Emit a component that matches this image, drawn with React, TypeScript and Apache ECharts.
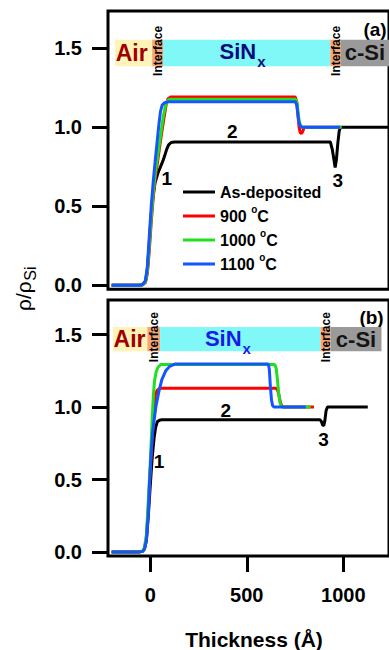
import React, { useEffect, useRef } from 'react';
import * as echarts from 'echarts';

const FONT = "'Liberation Sans', Arial, Helvetica, sans-serif";

// legend / series
const seriesNames = ['As-deposited', '900 °C', '1000 °C', '1100 °C'];
const seriesColors = ['#000000', '#ff0000', '#1ee01e', '#1455ff'];

// axes
const xTicks = [0, 500, 1000];
const yTicks = [0, 0.5, 1.0, 1.5];
const xRange = [-219, 1237];
const yRangeA = [-0.025, 1.734];
const yRangeB = [-0.028, 1.739];

// layer bands (edges in Å) and their kinds
const layerKinds = ['Air', 'Interface', 'SiNx', 'Interface', 'c-Si'];
const layerColors = ['#fff4b8', '#f5a474', '#80f8f8', '#f5a474', '#9a9a9a'];
const bandEdgesA = [-182, 10, 66, 933, 988, 1237];
const bandEdgesB = [-193, -15, 51, 882, 934, 1198];
const bandY = [1.385, 1.553];
const sinxLabelStart = [359, 283]; // panel a, panel b (Å)
const sinxColors = ['#0a0a80', '#1a1ae6'];

// curve labels
const curveLabelTexts = ['1', '2', '3'];
const curveLabelPosA = [[85, 0.675], [425, 0.975], [971, 0.66]];
const curveLabelPosB = [[45, 0.623], [391, 0.975], [898, 0.773]];

// ---- panel (a) curves ----
const asDepA = [[-200, 0], [-60, 0], [-40, 0.004], [-25, 0.025], [-15, 0.1], [-5, 0.27], [5, 0.45], [15, 0.57], [25, 0.65], [40, 0.71], [55, 0.755], [65, 0.785], [75, 0.82], [85, 0.86], [95, 0.888], [108, 0.903], [125, 0.906], [933, 0.906], [943, 0.86], [951, 0.8], [958, 0.745], [964, 0.79], [972, 0.9], [979, 0.975], [986, 1.0], [1237, 1.0]];
const t900A = [[-200, 0], [-60, 0], [-40, 0.003], [-25, 0.018], [-15, 0.075], [-5, 0.22], [5, 0.4], [15, 0.55], [25, 0.67], [40, 0.8], [55, 0.93], [70, 1.05], [82, 1.14], [92, 1.18], [105, 1.19], [752, 1.19], [759, 1.16], [765, 1.08], [771, 1.0], [777, 0.965], [784, 0.96], [791, 0.975], [798, 1.0], [985, 1.0]];
const t1000A = [[-200, 0], [-60, 0], [-40, 0.004], [-25, 0.022], [-15, 0.09], [-5, 0.25], [5, 0.43], [15, 0.58], [25, 0.7], [40, 0.83], [55, 0.96], [68, 1.07], [78, 1.13], [88, 1.165], [100, 1.177], [754, 1.177], [761, 1.15], [767, 1.08], [773, 1.03], [780, 1.008], [790, 1.0], [992, 1.0]];
const t1100A = [[-200, 0], [-60, 0], [-40, 0.005], [-25, 0.03], [-15, 0.12], [-5, 0.31], [5, 0.5], [15, 0.65], [25, 0.78], [35, 0.9], [45, 1.02], [53, 1.1], [62, 1.14], [75, 1.155], [95, 1.16], [752, 1.16], [759, 1.14], [764, 1.09], [769, 1.04], [775, 1.012], [783, 1.0], [983, 1.0]];

// ---- panel (b) curves ----
const asDepB = [[-200, 0], [-60, 0], [-40, 0.004], [-30, 0.02], [-20, 0.08], [-10, 0.25], [0, 0.46], [10, 0.65], [20, 0.79], [28, 0.86], [37, 0.9], [50, 0.91], [62, 0.912], [880, 0.912], [887, 0.9], [893, 0.876], [899, 0.872], [905, 0.91], [911, 0.975], [918, 1.0], [1127, 1.0]];
const t900B = [[-200, 0], [-60, 0], [-40, 0.004], [-30, 0.025], [-20, 0.1], [-10, 0.3], [0, 0.56], [10, 0.8], [18, 0.97], [26, 1.08], [35, 1.115], [48, 1.128], [60, 1.13], [650, 1.13], [659, 1.12], [667, 1.08], [675, 1.03], [682, 1.007], [690, 1.0], [848, 1.0]];
const t1000B = [[-200, 0], [-60, 0], [-40, 0.005], [-30, 0.03], [-20, 0.12], [-10, 0.36], [0, 0.62], [6, 0.8], [11, 0.95], [16, 1.08], [22, 1.18], [30, 1.24], [40, 1.275], [54, 1.293], [645, 1.293], [652, 1.27], [659, 1.19], [666, 1.09], [672, 1.03], [679, 1.005], [688, 1.0], [831, 1.0]];
const t1100B = [[-200, 0], [-60, 0], [-40, 0.004], [-30, 0.02], [-20, 0.08], [-10, 0.27], [-4, 0.47], [4, 0.67], [12, 0.82], [20, 0.91], [30, 1.01], [45, 1.11], [60, 1.19], [80, 1.25], [100, 1.28], [130, 1.298], [612, 1.298], [617, 1.26], [622, 1.15], [628, 1.05], [634, 1.01], [642, 1.0], [806, 1.0]];

const curvesA = [asDepA, t900A, t1000A, t1100A];
const curvesB = [asDepB, t900B, t1000B, t1100B];

let measureCtx: CanvasRenderingContext2D | null = null;
function textWidth(text: string, font: string) {
  if (!measureCtx) measureCtx = document.createElement('canvas').getContext('2d');
  if (!measureCtx) return text.length * 10;
  measureCtx.font = font;
  return measureCtx.measureText(text).width;
}

function makeBandRender(panel: number) {
  return (params: any, api: any) => {
    const i = params.dataIndex;
    const x0 = api.value(0);
    const x1 = api.value(1);
    const pTop = api.coord([x0, bandY[1]]);
    const pBot = api.coord([x1, bandY[0]]);
    const left = pTop[0];
    const right = Math.min(pBot[0], api.getWidth());
    const top = pTop[1];
    const bottom = pBot[1];
    const cy = (top + bottom) / 2;
    const kind = layerKinds[i];
    const children: any[] = [
      { type: 'rect', shape: { x: left, y: top, width: right - left, height: bottom - top }, style: { fill: layerColors[i] } },
    ];
    if (kind === 'Interface') {
      children.push({
        type: 'text', x: (left + right) / 2, y: cy - 2, rotation: Math.PI / 2,
        style: { text: 'Interface', fontSize: 12, fontWeight: 'bold', fontFamily: FONT, fill: '#000', align: 'center', verticalAlign: 'middle' },
      });
    } else if (kind === 'Air') {
      children.push({
        type: 'text', x: left + 0.5, y: cy,
        style: { text: 'Air', fontSize: 23, fontWeight: 'bold', fontFamily: FONT, fill: '#a00000', align: 'left', verticalAlign: 'middle' },
      });
    } else if (kind === 'c-Si') {
      children.push({
        type: 'text', x: (left + right) / 2, y: cy,
        style: { text: 'c-Si', fontSize: 22, fontWeight: 'bold', fontFamily: FONT, fill: '#151515', align: 'center', verticalAlign: 'middle' },
      });
    } else if (kind === 'SiNx') {
      const lx = api.coord([sinxLabelStart[panel], bandY[0]])[0];
      const w = textWidth('SiN', 'bold 22px ' + FONT);
      children.push({
        type: 'text', x: lx, y: cy - 1,
        style: { text: 'SiN', fontSize: 22, fontWeight: 'bold', fontFamily: FONT, fill: sinxColors[panel], align: 'left', verticalAlign: 'middle' },
      });
      children.push({
        type: 'text', x: lx + w + 1, y: cy + 9,
        style: { text: 'x', fontSize: 15, fontWeight: 'bold', fontFamily: FONT, fill: sinxColors[panel], align: 'left', verticalAlign: 'middle' },
      });
    }
    return { type: 'group', children };
  };
}

function labelRender(params: any, api: any) {
  const p = api.coord([api.value(0), api.value(1)]);
  return {
    type: 'text', x: p[0], y: p[1],
    style: { text: curveLabelTexts[params.dataIndex], fontSize: 19, fontWeight: 'bold', fontFamily: FONT, fill: '#000', align: 'center', verticalAlign: 'middle' },
  };
}

function edgesToData(edges: number[]) {
  const out: number[][] = [];
  for (let i = 0; i < edges.length - 1; i++) out.push([edges[i], edges[i + 1], bandY[0], bandY[1]]);
  return out;
}

function makeYAxis(grid: number, range: number[]) {
  return {
    type: 'value', gridIndex: grid, min: range[0], max: range[1],
    axisLine: { show: false, onZero: false },
    splitLine: { show: false },
    axisTick: { show: true, inside: false, length: 16, lineStyle: { width: 3, color: '#000' }, customValues: yTicks },
    axisLabel: {
      customValues: yTicks, margin: 26, fontSize: 20, fontWeight: 'bold', color: '#000', fontFamily: FONT,
      formatter: (v: number) => v.toFixed(1),
    },
  };
}

export default function App() {
  const ref = useRef<HTMLDivElement>(null);
  useEffect(() => {
    const chart = echarts.init(ref.current!, null, { renderer: 'svg' });
    const lineSeries: any[] = [];
    [curvesA, curvesB].forEach((curves, g) => {
      curves.forEach((data, k) => {
        lineSeries.push({
          type: 'line', name: seriesNames[k], xAxisIndex: g, yAxisIndex: g, data,
          symbol: 'none', showSymbol: false, color: seriesColors[k],
          lineStyle: { color: seriesColors[k], width: 3 }, z: 3 + k,
        });
      });
    });
    const mainW = textWidth('ρ/ρ', '21px ' + FONT);
    const option: any = {
      animation: false,
      backgroundColor: '#ffffff',
      grid: [
        { left: 108, top: 11, right: -6, height: 278.3, show: true, borderColor: '#000', borderWidth: 3, backgroundColor: 'transparent' },
        { left: 108, top: 300, right: -6, height: 256, show: true, borderColor: '#000', borderWidth: 3, backgroundColor: 'transparent' },
      ],
      xAxis: [
        {
          type: 'value', gridIndex: 0, min: xRange[0], max: xRange[1],
          axisLine: { show: false, onZero: false }, splitLine: { show: false },
          axisTick: { show: false }, axisLabel: { show: false },
        },
        {
          type: 'value', gridIndex: 1, min: xRange[0], max: xRange[1],
          axisLine: { show: false, onZero: false }, splitLine: { show: false },
          axisTick: { show: true, inside: false, length: 16, lineStyle: { width: 3, color: '#000' }, customValues: xTicks },
          axisLabel: { customValues: xTicks, margin: 29, fontSize: 20, fontWeight: 'bold', color: '#000', fontFamily: FONT, formatter: (v: number) => String(v) },
        },
      ],
      yAxis: [makeYAxis(0, yRangeA), makeYAxis(1, yRangeB)],
      legend: {
        data: seriesNames, orient: 'vertical', left: 183, top: 180, padding: 0, itemGap: 0,
        itemWidth: 32, itemHeight: 3, icon: 'rect', itemStyle: { borderWidth: 0 },
        textStyle: {
          fontFamily: FONT, fontSize: 16, fontWeight: 'bold', color: '#000', lineHeight: 24,
          rich: { sup: { fontSize: 10, fontWeight: 'bold', fontFamily: FONT, lineHeight: 10, verticalAlign: 'top', color: '#000' } },
        },
        formatter: (n: string) => n.replace('°', '{sup|o}'),
      },
      graphic: [
        {
          type: 'group', x: 23, y: 311, rotation: Math.PI / 2,
          children: [
            { type: 'text', x: 0, y: 0, style: { text: 'ρ/ρ', fontSize: 21, fontFamily: FONT, fill: '#000', align: 'left', verticalAlign: 'middle' } },
            { type: 'text', x: mainW + 0.5, y: 7, style: { text: 'Si', fontSize: 16, fontFamily: FONT, fill: '#000', align: 'left', verticalAlign: 'middle' } },
          ],
        },
        { type: 'text', x: 254, y: 639, style: { text: 'Thickness (Å)', fontSize: 21, fontWeight: 'bold', fontFamily: FONT, fill: '#000', align: 'center', verticalAlign: 'middle' } },
        { type: 'text', x: 375, y: 29.5, style: { text: '(a)', fontSize: 19, fontWeight: 'bold', fontFamily: FONT, fill: '#000', align: 'center', verticalAlign: 'middle' } },
        { type: 'text', x: 371.5, y: 317.5, style: { text: '(b)', fontSize: 19, fontWeight: 'bold', fontFamily: FONT, fill: '#000', align: 'center', verticalAlign: 'middle' } },
      ],
      series: [
        { type: 'custom', xAxisIndex: 0, yAxisIndex: 0, data: edgesToData(bandEdgesA), encode: { x: [0, 1], y: [2, 3] }, renderItem: makeBandRender(0), z: 1, silent: true },
        { type: 'custom', xAxisIndex: 1, yAxisIndex: 1, data: edgesToData(bandEdgesB), encode: { x: [0, 1], y: [2, 3] }, renderItem: makeBandRender(1), z: 1, silent: true },
        { type: 'custom', xAxisIndex: 0, yAxisIndex: 0, data: curveLabelPosA, encode: { x: 0, y: 1 }, renderItem: labelRender, z: 10, silent: true },
        { type: 'custom', xAxisIndex: 1, yAxisIndex: 1, data: curveLabelPosB, encode: { x: 0, y: 1 }, renderItem: labelRender, z: 10, silent: true },
        ...lineSeries,
      ],
    };
    chart.setOption(option);
    return () => chart.dispose();
  }, []);
  return <div ref={ref} style={{ position: 'absolute', left: 0, top: 0, width: 389, height: 650 }} />;
}
